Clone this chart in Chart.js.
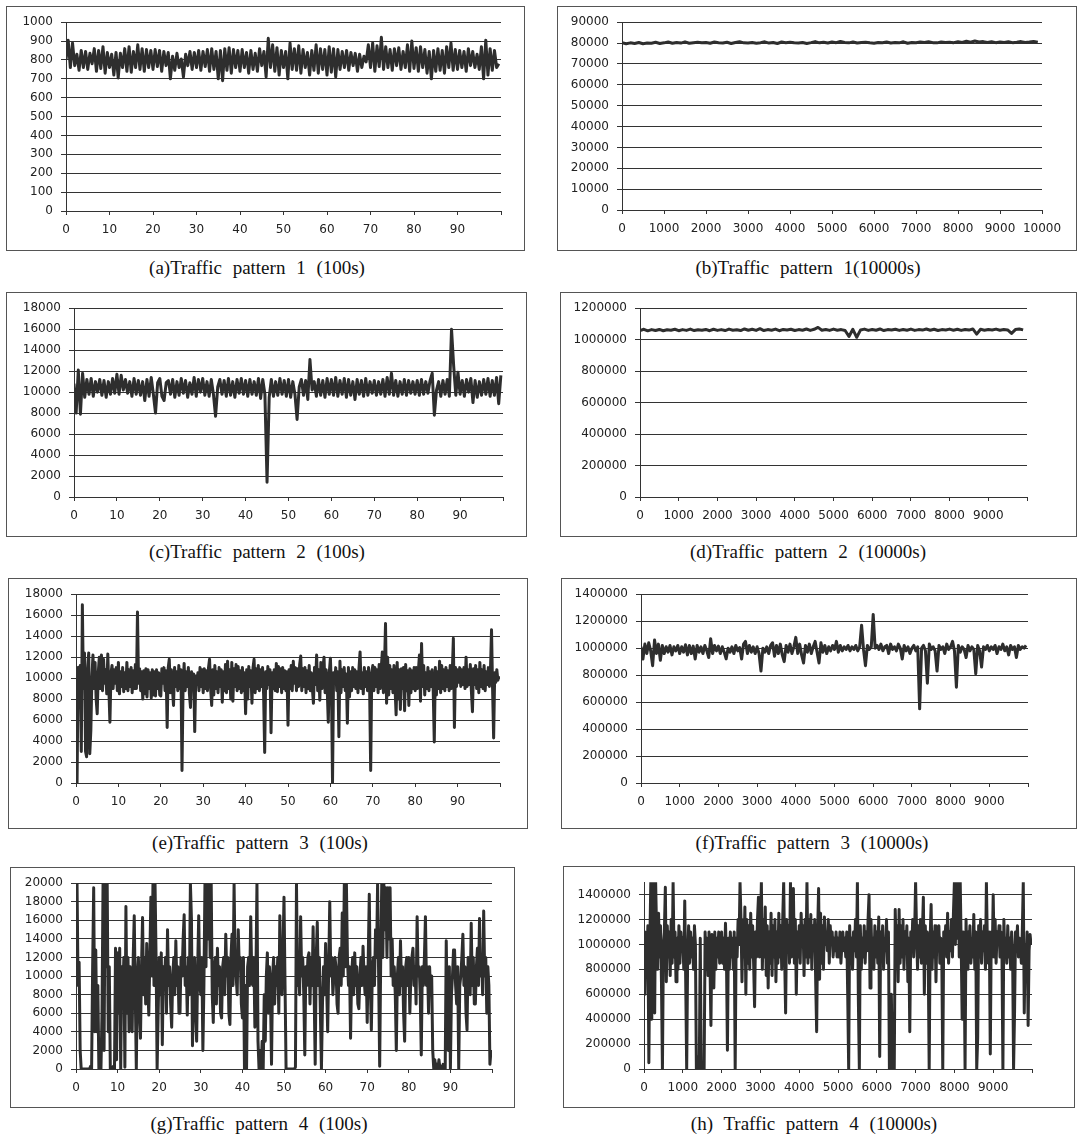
<!DOCTYPE html>
<html>
<head>
<meta charset="utf-8">
<script src="https://cdn.jsdelivr.net/npm/chart.js@4.4.1/dist/chart.umd.min.js"></script>
<style>
  html, body { margin: 0; padding: 0; background: #fff; }
  body { position: relative; width: 1079px; height: 1136px; overflow: hidden; }
  .panel { position: absolute; box-sizing: border-box; border: 1px solid #555; background: #fff; }
  .panel canvas { position: absolute; left: 0; top: 0; }
  .caption {
    position: absolute; transform: translate(-50%, -50%); white-space: nowrap;
    font-family: "Liberation Serif", "Times New Roman", serif; font-size: 19px;
    word-spacing: 6px; color: #111;
  }
</style>
</head>
<body>
<script>
// traffic samples
// a, c: every 0.5 s; e, g: every 0.25 s; b, d: every 100 s; f: every 50 s; h: every 25 s
const trafficA = [
  800,905,760,890,770,830,745,850,760,845,750,835,780,860,740,850,755,870,730,840,
  760,830,720,840,705,835,760,860,740,870,735,845,760,880,750,860,740,855,760,850,
  750,855,765,850,740,845,770,840,700,820,745,835,760,805,710,830,770,845,750,840,
  760,850,745,845,765,855,740,860,750,845,700,850,690,860,745,865,730,855,760,850,
  740,855,760,840,730,850,750,835,740,860,770,845,710,915,760,880,740,865,720,850,
  760,845,700,890,750,860,745,875,730,855,760,840,720,850,745,880,730,860,750,855,
  720,870,735,860,710,855,750,845,760,850,745,840,770,835,740,830,760,820,790,880,
  760,890,740,875,765,920,750,870,760,855,745,860,770,865,750,845,760,880,740,900,
  755,865,740,870,760,855,730,845,700,850,740,860,745,850,730,870,760,890,745,855,
  750,850,760,845,740,860,770,845,760,830,750,870,700,905,720,860,745,850,760,780
];
const trafficB = [
  80200,79700,80100,79800,80300,79700,80000,79900,80400,79800,
  80100,80500,79900,80300,80000,80600,79900,80200,80400,80100,
  80300,79900,80500,80200,80000,80400,79800,80300,80600,80100,
  80000,80300,79900,80200,80600,80000,80300,79800,80500,80200,
  80400,80100,80000,80300,79800,80200,80700,80100,80400,80000,
  80500,80200,80800,80300,80100,80500,80000,80300,80400,80100,
  79900,80300,80200,80500,80000,80300,80100,80600,79900,80300,
  80200,80500,80300,80600,80200,80100,80500,80300,80400,80200,
  80600,80300,80900,80400,81000,80500,80700,80300,80600,80200,
  80500,80300,80600,80200,80400,80700,80300,80500,80800,80400
];
const trafficC = [
  10800,8000,12100,7900,11800,9500,11200,9800,11300,9600,11000,10000,11200,9700,11100,9500,11000,9800,11300,9900,
  11700,9800,11600,10200,11200,9900,11000,9600,11300,9800,11100,9700,11000,9200,11200,9600,11400,9800,8000,10900,
  11300,9600,9200,10900,11100,9800,11200,9500,11000,9700,11300,9900,11100,9500,10900,9800,11400,9600,11200,10000,
  11300,9700,11000,9600,11200,9800,7700,10500,11200,9800,11100,9600,11300,9700,11000,9500,11200,9900,11300,9800,
  11100,9600,11200,9800,11000,9700,11300,9400,11200,9800,1400,9500,11200,9600,11000,9700,11300,9800,11100,9600,
  11200,9500,11000,9800,7400,10500,11200,9700,11100,9300,13100,10200,11000,9600,11200,9700,11100,9500,11300,9800,
  11200,9700,11400,9600,11100,9800,11300,9500,11200,9700,11000,9300,11200,9800,11100,9600,11300,9700,11000,9900,
  11100,9700,11000,9800,11200,9600,11400,9800,11800,9700,11100,9600,11000,9800,11200,9700,11100,9900,11000,9800,
  11100,9700,11200,9800,11000,9900,11100,11800,7800,10200,11000,9600,11100,9800,11200,9600,16000,12500,9700,11900,
  9800,11100,9600,11200,10000,11300,9000,11100,9500,11000,9700,11200,9800,11300,9600,11100,9700,11400,8900,11600
];
const trafficD = [
  1058000,1066000,1056000,1064000,1058000,1065000,1057000,1063000,1060000,1066000,
  1057000,1064000,1059000,1067000,1058000,1063000,1060000,1065000,1057000,1066000,
  1059000,1064000,1058000,1067000,1060000,1063000,1058000,1068000,1060000,1066000,
  1059000,1070000,1058000,1064000,1060000,1067000,1057000,1065000,1061000,1066000,
  1058000,1064000,1060000,1068000,1059000,1066000,1078000,1060000,1065000,1059000,
  1067000,1060000,1064000,1058000,1020000,1066000,1015000,1062000,1067000,1059000,
  1065000,1060000,1068000,1058000,1064000,1061000,1066000,1059000,1065000,1060000,
  1067000,1059000,1064000,1061000,1068000,1060000,1066000,1058000,1064000,1062000,
  1067000,1060000,1066000,1059000,1065000,1061000,1068000,1035000,1066000,1060000,
  1064000,1061000,1067000,1060000,1065000,1062000,1040000,1064000,1068000,1062000
];
const trafficE = [
  10000,0,11000,8000,11200,3000,17000,9000,12400,3000,2500,11000,12400,2800,5000,10000,12200,9000,11500,8000,
  6600,10500,12000,9000,12200,8800,11800,9500,10800,8500,12300,9000,5800,10500,11200,9000,10800,9500,11000,8800,
  11500,8500,10600,9200,11000,8700,10500,9000,11500,8800,10800,9200,11000,8600,10700,9000,11300,9000,16300,9500,
  10900,8800,10600,8000,10700,8500,10900,8200,10800,9000,10500,8100,10800,8400,10600,8300,10800,9000,10500,8400,
  8300,10900,9500,11000,8800,10700,5300,11000,11800,8600,10800,9000,7400,11000,9200,10600,8800,11200,9000,10800,
  1200,9000,11400,8800,10600,9200,11000,8500,7200,10600,9000,10400,4900,10200,9400,10500,8800,11000,9200,10800,
  8600,10900,9000,10700,8800,11000,11800,9000,7400,10800,8400,11200,9000,10600,8600,11000,9200,10800,7700,10600,
  8800,11300,8600,11600,9000,10800,8000,11500,7800,10900,9200,11300,8800,11100,9000,10700,8600,11000,8800,10500,
  6600,10800,8000,11100,9200,10700,7600,11000,11800,8600,10900,9000,11200,8800,10800,9200,11000,8400,2900,10600,
  9000,11100,9400,10800,4800,10500,9000,10800,8800,11400,8700,11100,9200,10900,8600,11000,9000,10700,8800,10600,
  5500,10800,9000,11200,8800,11600,9500,11000,8800,10900,9200,11300,12100,8800,10900,9200,11000,8600,10700,9000,
  11200,8800,10500,9000,7600,11000,9400,12200,8800,10800,7900,11500,9000,11000,12000,8600,10800,9000,5800,10600,
  11900,9000,0,10500,9500,11000,8800,10600,4400,11600,8600,10800,9200,11000,8800,10400,5700,11000,8200,10600,
  8800,11000,9200,10800,9000,10600,8600,11000,12500,9000,10500,8500,11000,9200,10600,8800,11000,9000,1200,10500,
  11200,8800,11000,9200,10800,8600,11300,9000,11000,12500,8600,11000,15200,7600,12000,8400,11200,9000,10800,8600,
  11200,9000,6500,11500,8000,10800,7000,10900,9000,11000,6900,11300,8800,10700,7400,10900,8600,10700,9000,11000,
  8800,11000,9000,10700,12200,7800,13300,9200,11200,8400,10500,9000,11000,8800,10600,9200,10800,8800,3900,11000,
  8400,10600,9000,11600,8600,11200,9000,10800,8800,11000,9200,10700,8800,11200,9000,10600,13800,5300,11000,9200,
  10800,9600,11000,9200,10800,9400,11000,9000,12000,9200,10800,9400,11300,8800,6800,10900,9400,11200,9000,10800,
  8600,11500,9200,10800,9000,11200,8800,10600,9400,11000,9200,10800,14600,9000,4300,10500,9600,10800,9800,10200
];
const trafficF = [
  1010000,920000,1030000,960000,1040000,980000,870000,1060000,960000,1030000,910000,1020000,960000,1010000,970000,1020000,950000,1010000,980000,1020000,
  960000,1010000,970000,1025000,950000,1020000,960000,1015000,920000,1020000,970000,1010000,960000,1020000,980000,930000,1070000,960000,1020000,980000,
  1015000,960000,1010000,970000,920000,1000000,970000,1010000,960000,1020000,980000,1005000,920000,1030000,1050000,960000,1020000,970000,1010000,960000,
  1010000,960000,830000,1000000,970000,1010000,960000,1020000,1040000,940000,1020000,960000,1030000,950000,900000,1020000,970000,1030000,960000,1010000,
  1080000,960000,1030000,950000,890000,1020000,970000,1030000,960000,1010000,1050000,970000,890000,1040000,970000,1020000,960000,1010000,980000,1020000,
  990000,1050000,970000,1020000,980000,1010000,990000,1020000,980000,1010000,990000,1020000,980000,1010000,1170000,990000,870000,1020000,990000,1010000,
  1250000,1000000,1020000,990000,1030000,980000,1010000,1020000,960000,1030000,990000,1010000,980000,1030000,1000000,920000,1020000,980000,1010000,960000,
  1000000,1020000,980000,1010000,550000,1000000,1020000,980000,740000,1030000,990000,1010000,980000,830000,1020000,990000,1010000,960000,1030000,990000,
  1010000,1050000,980000,710000,1020000,970000,1010000,990000,930000,1020000,980000,1010000,990000,810000,1020000,980000,860000,1010000,990000,1020000,
  980000,1010000,990000,1020000,960000,1010000,990000,1030000,980000,1010000,950000,1020000,990000,1010000,930000,1020000,990000,1010000,1000000,1020000
];
const trafficG = [
  11000,20000,9000,11500,2000,0,0,0,0,0,0,0,0,0,300,0,11000,19500,4000,12800,
  4000,9000,0,2000,0,6000,20000,2000,20000,11000,20000,4000,11000,0,200,0,300,0,13000,1000,
  12500,6000,13000,0,11000,8000,12000,200,17500,6000,12000,4000,11000,9000,4000,12000,16500,8000,0,10000,
  12000,6000,3300,11000,16300,8000,12000,7000,13500,9000,5800,12000,18500,10000,20000,9000,20000,12000,0,6000,
  12000,8000,12500,2600,11000,9000,12000,6000,15000,9000,11000,7000,4500,10000,12000,8000,13800,9000,11000,6000,
  6000,12000,10000,14000,16600,9000,11000,5800,12000,8000,20000,16200,2500,9000,12000,6000,3000,11000,16500,9000,
  8000,12000,2000,9000,20000,11000,20000,14000,20000,12000,20000,8000,5000,11000,12000,7000,13000,9000,11000,6000,
  5500,11000,12000,8000,14500,10000,12000,6000,4800,12000,14500,9000,20000,11000,10000,8000,15000,11000,12000,7000,
  5500,12000,0,9000,0,11000,12000,9000,16400,10000,9000,12000,4500,10000,20000,3000,0,2000,0,3000,
  0,8000,3000,10000,12500,6000,11000,8000,500,10000,12000,7000,11000,9000,12000,6000,16500,10000,8000,12500,
  18500,9000,0,0,0,0,0,0,0,0,0,200,20000,9000,11000,8000,16400,10000,12000,8000,
  1500,11000,9000,12000,12500,7000,12000,9000,15300,8000,500,12000,15800,9000,12000,6000,0,7000,11000,8000,
  13500,9000,4000,11000,18000,10000,12000,8000,10000,12000,11000,7000,6000,12000,13000,9000,16800,10000,20000,11000,
  20000,12000,9000,11000,3300,10000,12000,8000,12500,9000,11000,7000,6500,10000,12000,9000,13200,10000,8000,11000,
  5000,12000,18800,9000,4200,11000,12000,9000,15000,12000,20000,10000,300,12000,20000,12000,20000,15000,19500,12000,
  19500,14000,19500,10000,14000,9000,11000,8000,2000,10000,12000,8000,13800,9000,11000,6000,3000,11000,12000,9000,
  12000,6000,10000,12000,13000,9000,11000,7000,16400,10000,11000,8000,1500,11000,9000,12000,16400,9000,11000,6000,
  11000,8000,10000,2000,0,1000,0,500,0,1000,0,300,0,500,0,0,13800,6000,2000,11000,
  0,8000,10000,12800,12800,9000,7000,11000,0,9000,10000,12000,14500,9000,11000,6000,4200,12000,10000,8000,
  15700,9000,12000,7000,7000,11000,13000,9000,16200,10000,12000,8000,17000,10000,12000,6000,11000,9000,500,2000
];
const trafficH = [
  1100000,600000,1050000,900000,1150000,50000,1000000,1500000,400000,1200000,1500000,450000,1500000,1100000,800000,1250000,900000,1150000,700000,0,
  1000000,1100000,1460000,700000,1150000,900000,1100000,750000,1200000,850000,1500000,900000,1100000,700000,1050000,800000,1150000,850000,1100000,950000,
  1050000,800000,1350000,700000,0,900000,1150000,850000,1100000,900000,1050000,800000,1150000,1000000,0,0,100000,0,1050000,0,
  0,0,0,1100000,800000,1050000,750000,1100000,850000,350000,1080000,900000,650000,1100000,800000,1050000,900000,1100000,850000,1000000,
  1100000,850000,1050000,800000,1170000,900000,150000,1050000,800000,1100000,900000,1050000,800000,1100000,0,1050000,900000,1200000,1000000,1500000,
  1200000,700000,1150000,900000,1300000,600000,1200000,850000,1150000,800000,1250000,900000,1150000,850000,500000,1100000,900000,1200000,1380000,900000,
  1100000,1500000,800000,1200000,900000,1300000,750000,1150000,650000,1100000,850000,1250000,750000,1150000,900000,1200000,700000,1100000,850000,1250000,
  900000,1150000,800000,1200000,1500000,900000,450000,1200000,1000000,1150000,850000,1500000,900000,1250000,1450000,850000,1200000,600000,1100000,900000,
  1150000,850000,1250000,1000000,1150000,750000,1200000,900000,1500000,850000,1200000,900000,1240000,800000,1150000,950000,1200000,700000,300000,1100000,
  1450000,720000,1250000,850000,1150000,800000,1220000,1000000,1100000,950000,1200000,850000,1150000,1000000,1100000,900000,1050000,950000,1100000,900000,
  1050000,900000,1100000,850000,1000000,1100000,950000,1050000,900000,1100000,600000,0,1150000,900000,1050000,800000,1100000,950000,1200000,900000,
  1500000,550000,0,1150000,800000,1050000,900000,1150000,850000,1100000,950000,1200000,1400000,650000,1200000,900000,1050000,800000,1150000,900000,
  1100000,850000,1220000,100000,1100000,900000,1150000,800000,1050000,950000,1200000,850000,1100000,0,0,600000,0,0,0,1280000,
  900000,1150000,700000,1280000,850000,1150000,900000,1200000,800000,1100000,950000,1150000,700000,1050000,300000,1100000,950000,1200000,900000,1100000,
  1500000,1100000,800000,1150000,900000,1200000,850000,1100000,1380000,600000,1150000,850000,1100000,900000,0,1050000,1320000,800000,1100000,900000,
  1150000,700000,1100000,950000,1150000,850000,1050000,900000,0,1100000,1000000,1150000,900000,1250000,850000,1100000,950000,1200000,900000,1250000,
  1500000,1000000,1500000,1050000,1500000,900000,1500000,1000000,400000,1100000,900000,0,1200000,800000,1100000,950000,1150000,850000,1050000,900000,
  1240000,800000,1100000,0,250000,1150000,900000,1200000,850000,1100000,950000,1150000,800000,1500000,1000000,850000,1100000,120000,1100000,900000,
  1400000,900000,1200000,850000,1100000,1000000,1150000,900000,1100000,950000,0,1200000,900000,1050000,850000,1150000,900000,1050000,800000,1100000,
  950000,0,450000,1100000,950000,1150000,900000,1050000,1000000,850000,1100000,1500000,450000,1000000,850000,1100000,350000,950000,1080000,1000000
];

const captions = [
  '(a)Traffic pattern 1 (100s)', '(b)Traffic pattern 1(10000s)',
  '(c)Traffic pattern 2 (100s)', '(d)Traffic pattern 2 (10000s)',
  '(e)Traffic pattern 3 (100s)', '(f)Traffic pattern 3 (10000s)',
  '(g)Traffic pattern 4 (100s)', '(h) Traffic pattern 4 (10000s)'
];

// layout: box = panel frame, plot = [x at 0, x at max, y at top, y at 0]
const panels = [
  { values: trafficA, dx: 0.5,  xMax: 100,   xStep: 10,   hideLastX: true,  yMax: 1000,    yTop: 1000,    yStep: 100,    box: [6, 6, 525, 251],      plot: [66, 501, 21, 211],    cap: [257, 268] },
  { values: trafficB, dx: 100,  xMax: 10000, xStep: 1000, hideLastX: false, yMax: 90000,   yTop: 90000,   yStep: 10000,  box: [557, 6, 1077, 251],   plot: [622, 1042, 21, 210],  cap: [808, 268] },
  { values: trafficC, dx: 0.5,  xMax: 100,   xStep: 10,   hideLastX: true,  yMax: 18000,   yTop: 18000,   yStep: 2000,   box: [6, 292, 527, 537],    plot: [74, 503, 306, 497],   cap: [257, 552] },
  { values: trafficD, dx: 100,  xMax: 10000, xStep: 1000, hideLastX: true,  yMax: 1200000, yTop: 1200000, yStep: 200000, box: [560, 292, 1077, 537],  plot: [640, 1027, 306, 497], cap: [808, 552] },
  { values: trafficE, dx: 0.25, xMax: 100,   xStep: 10,   hideLastX: true,  yMax: 18000,   yTop: 18000,   yStep: 2000,   box: [8, 578, 528, 829],    plot: [76, 500, 594, 783],   cap: [260, 843] },
  { values: trafficF, dx: 50,   xMax: 10000, xStep: 1000, hideLastX: true,  yMax: 1400000, yTop: 1400000, yStep: 200000, box: [561, 578, 1077, 829],  plot: [641, 1028, 593, 783], cap: [812, 843] },
  { values: trafficG, dx: 0.25, xMax: 100,   xStep: 10,   hideLastX: true,  yMax: 20000,   yTop: 20000,   yStep: 2000,   box: [10, 867, 515, 1108],  plot: [76, 492, 881, 1069],  cap: [259, 1124] },
  { values: trafficH, dx: 25,   xMax: 10000, xStep: 1000, hideLastX: true,  yMax: 1500000, yTop: 1400000, yStep: 200000, box: [563, 866, 1075, 1108], plot: [644, 1032, 881, 1069], cap: [814, 1124] }
];

const INK = '#333';
const tickFont = { family: '"DejaVu Sans", Verdana, sans-serif', size: 12 };

panels.forEach((p, k) => {
  const [bl, bt, br, bb] = p.box;
  const [px0, px1, pyTop, pyBot] = p.plot;

  const div = document.createElement('div');
  div.className = 'panel';
  div.style.left = bl + 'px';
  div.style.top = bt + 'px';
  div.style.width = (br - bl) + 'px';
  div.style.height = (bb - bt) + 'px';
  const cw = br - bl - 2, ch = bb - bt - 2;
  const canvas = document.createElement('canvas');
  canvas.width = cw; canvas.height = ch;
  canvas.style.width = cw + 'px'; canvas.style.height = ch + 'px';
  div.appendChild(canvas);
  document.body.appendChild(div);

  const cap = document.createElement('div');
  cap.className = 'caption';
  cap.textContent = captions[k];
  cap.style.left = p.cap[0] + 'px';
  cap.style.top = p.cap[1] + 'px';
  document.body.appendChild(cap);

  // canvas origin in page coords
  const cx = bl + 1, cy = bt + 1;

  const yTicks = [];
  for (let v = 0; v <= p.yTop; v += p.yStep) yTicks.push(v);

  new Chart(canvas.getContext('2d'), {
    type: 'line',
    data: {
      datasets: [{
        data: p.values.map((v, i) => ({ x: i * p.dx, y: v })),
        borderColor: '#2e2e2e',
        borderWidth: 3,
        borderJoinStyle: 'round',
        pointRadius: 0,
        tension: 0,
        fill: false
      }]
    },
    options: {
      responsive: false,
      animation: false,
      events: [],
      layout: { padding: { left: 0, top: pyTop - cy, right: (cx + cw) - px1, bottom: 0 } },
      plugins: { legend: { display: false }, tooltip: { enabled: false } },
      scales: {
        x: {
          type: 'linear',
          min: 0, max: p.xMax,
          afterFit: s => { s.height = (cy + ch) - pyBot; },
          border: { display: true, color: INK, width: 1 },
          grid: { drawOnChartArea: false, drawTicks: true, tickLength: 4, color: INK },
          ticks: {
            stepSize: p.xStep, autoSkip: false, maxRotation: 0, minRotation: 0,
            padding: 8, color: '#222', font: tickFont,
            callback: v => (p.hideLastX && v === p.xMax) ? '' : String(v)
          }
        },
        y: {
          min: 0, max: p.yMax,
          afterFit: s => { s.width = px0 - cx; },
          afterBuildTicks: s => { s.ticks = yTicks.map(v => ({ value: v })); },
          border: { display: true, color: INK, width: 1 },
          grid: { color: INK, lineWidth: 1, drawTicks: true, tickLength: 5 },
          ticks: {
            autoSkip: false, padding: 8, color: '#222', font: tickFont,
            callback: v => String(v)
          }
        }
      }
    }
  });
});
</script>
</body>
</html>
